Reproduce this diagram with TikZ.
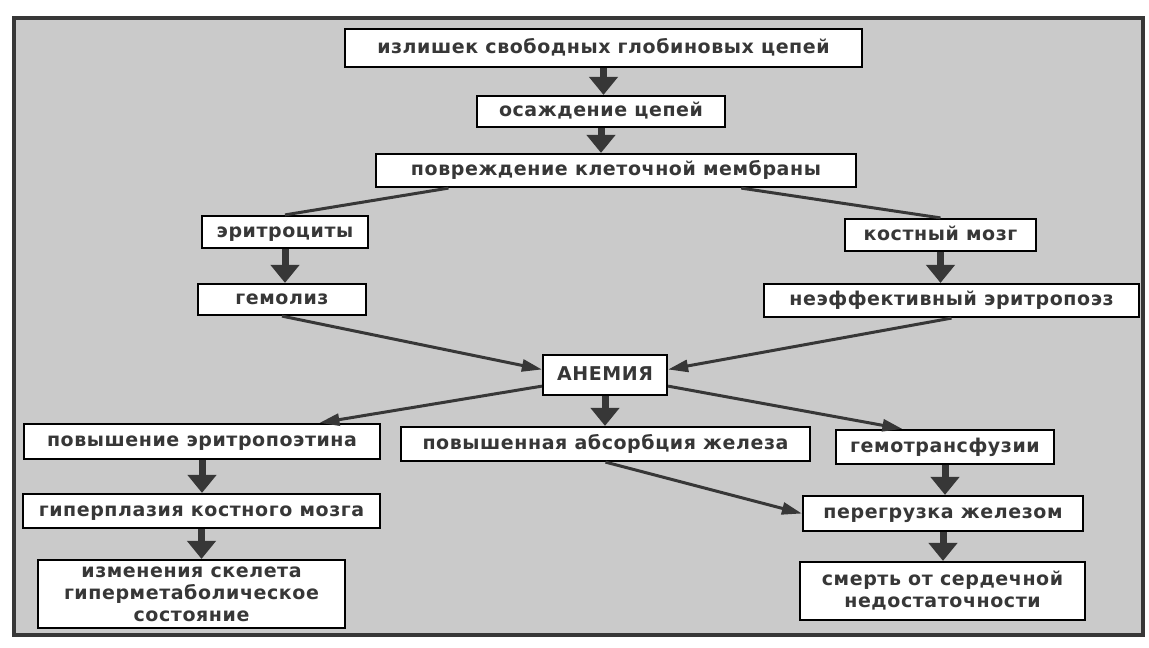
\documentclass[tikz,border=0pt]{standalone}
\usepackage{fontspec}
\setmainfont[LetterSpace=3]{DejaVu Sans}
\usetikzlibrary{arrows.meta}
\definecolor{paper}{RGB}{202,202,202}
\definecolor{ink}{RGB}{55,55,55}

\begin{document}
\begin{tikzpicture}[x=1pt,y=-1pt,
    box/.style={draw=black,line width=2.2pt,fill=white,text=ink,inner sep=0pt,align=center,
                font=\fontsize{19}{22}\selectfont\bfseries},
    onel/.style={box,text height=11pt,text depth=0.5pt},
    fat/.style={draw=ink,line width=7pt,-{Triangle[width=28pt,length=18pt]}},
    slant/.style={draw=ink,line width=3pt,-{Triangle[width=12pt,length=20pt]}},
    plainlink/.style={draw=ink,line width=3pt}]
\useasboundingbox (0,0) rectangle (1149,648);
\fill[white] (0,0) rectangle (1149,648);
\draw[ink,line width=4pt,fill=paper] (14,18) rectangle (1143,635);

\node[onel,minimum width=517,minimum height=38] (excess) at (603.5,48) {излишек свободных глобиновых цепей};
\node[onel,minimum width=248,minimum height=31] (precip) at (601,111.5) {осаждение цепей};
\node[onel,minimum width=480,minimum height=33] (membr) at (616,170.5) {повреждение клеточной мембраны};
\node[onel,minimum width=166,minimum height=32] (rbc) at (285,232) {эритроциты};
\node[onel,minimum width=168,minimum height=31] (hemol) at (282,299.5) {гемолиз};
\node[onel,minimum width=191,minimum height=32] (marrow) at (940.5,235) {костный мозг};
\node[onel,minimum width=375,minimum height=33] (ineff) at (951.5,300.5) {неэффективный эритропоэз};
\node[onel,minimum width=124,minimum height=40] (anemia) at (605,375) {АНЕМИЯ};
\node[onel,minimum width=356,minimum height=35] (epo) at (202,441.5) {повышение эритропоэтина};
\node[onel,minimum width=409,minimum height=34] (absorb) at (605.5,444) {повышенная абсорбция железа};
\node[onel,minimum width=218,minimum height=34] (transf) at (945,447) {гемотрансфузии};
\node[onel,minimum width=357,minimum height=34] (hyper) at (201.5,511) {гиперплазия костного мозга};
\node[onel,minimum width=280,minimum height=35] (overload) at (943,513.5) {перегрузка железом};
\node[box,minimum width=307,minimum height=68] (skel) at (191.5,594) {изменения скелета\\гиперметаболическое\\состояние};
\node[box,minimum width=285,minimum height=58] (death) at (942.5,591) {смерть от сердечной\\недостаточности};

\draw[fat] (excess.south) -- (excess.south |- precip.north);
\draw[fat] (precip.south) -- (precip.south |- membr.north);
\draw[plainlink] (membr.186) -- (rbc.north);
\draw[plainlink] (membr.-8.6) -- (marrow.north);
\draw[fat] (rbc.south) -- (rbc.south |- hemol.north);
\draw[fat] (marrow.south) -- (marrow.south |- ineff.north);
\draw[slant] (hemol.south) -- (anemia.175);
\draw[slant] (ineff.south) -- (anemia.5);
\draw[slant] (anemia.190) -- (epo.9);
\draw[fat] (anemia.south) -- (anemia.south |- absorb.north);
\draw[slant] (anemia.-10) -- (transf.157);
\draw[fat] (epo.south) -- (epo.south |- hyper.north);
\draw[fat] (hyper.south) -- (hyper.south |- skel.north);
\draw[slant] (absorb.south) -- (overload.west);
\draw[fat] (transf.south) -- (transf.south |- overload.north);
\draw[fat] (overload.south) -- (overload.south |- death.north);
\end{tikzpicture}
\end{document}
